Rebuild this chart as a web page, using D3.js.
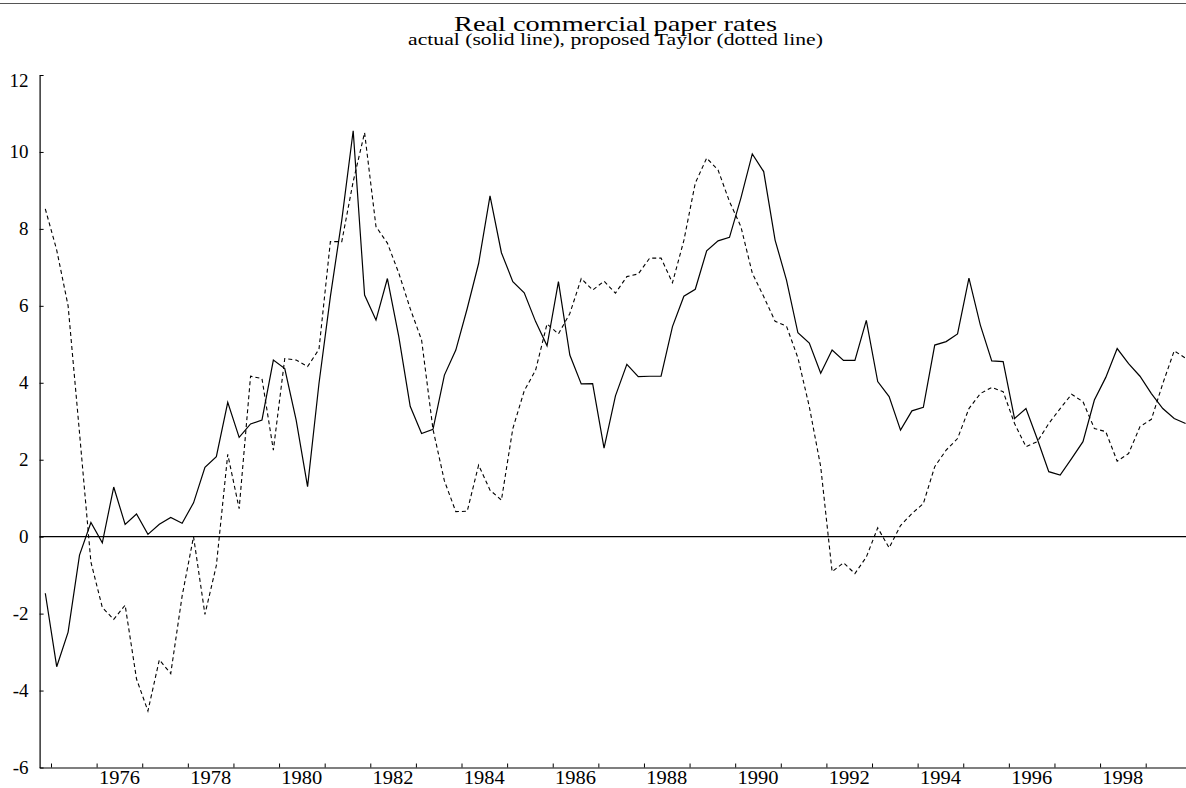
<!DOCTYPE html>
<html>
<head>
<meta charset="utf-8">
<script src="https://cdn.jsdelivr.net/npm/d3@7"></script>
<style>
  body { margin: 0; background: #fff; }
  svg { display: block; font-family: "Liberation Serif", "Times New Roman", serif; }
</style>
</head>
<body>
<div class="chart"></div>
<script>
// quarterly data, first observation is 1974 Q4
const START_YEAR = 1974;
const START_QUARTER = 4;

// actual real commercial paper rate (solid line)
const actual = [
  -1.47, -3.38, -2.48, -0.48, 0.37, -0.16, 1.29, 0.32, 0.59, 0.06,
  0.32, 0.50, 0.35, 0.88, 1.80, 2.08, 3.49, 2.58, 2.93, 3.03,
  4.59, 4.37, 3.03, 1.30, 3.98, 6.24, 8.23, 10.55, 6.28, 5.63,
  6.71, 5.20, 3.39, 2.68, 2.79, 4.20, 4.85, 5.93, 7.10, 8.86,
  7.38, 6.63, 6.34, 5.59, 4.96, 6.63, 4.72, 3.97, 3.98, 2.30,
  3.66, 4.48, 4.16, 4.17, 4.17, 5.46, 6.25, 6.43, 7.43, 7.69,
  7.78, 8.80, 9.95, 9.49, 7.71, 6.67, 5.30, 5.03, 4.25, 4.85,
  4.58, 4.58, 5.62, 4.03, 3.64, 2.77, 3.27, 3.36, 4.98, 5.07,
  5.27, 6.72, 5.50, 4.57, 4.55, 3.07, 3.33, 2.53, 1.69, 1.60,
  2.03, 2.47, 3.55, 4.14, 4.89, 4.50, 4.17, 3.72, 3.33, 3.07,
  2.94
];

// proposed Taylor rule rate (dotted line)
const taylor = [
  8.52, 7.45, 6.00, 2.70, -0.66, -1.84, -2.15, -1.78, -3.70, -4.53,
  -3.20, -3.56, -1.54, 0.00, -2.02, -0.75, 2.14, 0.73, 4.17, 4.11,
  2.25, 4.63, 4.59, 4.42, 4.87, 7.67, 7.67, 9.23, 10.50, 8.06,
  7.63, 6.85, 5.93, 5.11, 2.79, 1.45, 0.65, 0.66, 1.86, 1.21,
  0.95, 2.81, 3.79, 4.33, 5.53, 5.27, 5.80, 6.71, 6.41, 6.64,
  6.33, 6.76, 6.83, 7.24, 7.24, 6.60, 7.70, 9.19, 9.84, 9.53,
  8.71, 8.06, 6.85, 6.24, 5.60, 5.47, 4.65, 3.38, 1.82, -0.91,
  -0.68, -0.96, -0.53, 0.23, -0.29, 0.29, 0.60, 0.86, 1.82, 2.25,
  2.55, 3.33, 3.72, 3.88, 3.77, 2.94, 2.34, 2.47, 2.94, 3.33,
  3.70, 3.51, 2.81, 2.73, 1.96, 2.16, 2.86, 3.05, 3.98, 4.83,
  4.64
];

const yTicks = [-6, -4, -2, 0, 2, 4, 6, 8, 10, 12];
const yearTicks = d3.range(1975, 2000);          // a tick at the start of each year
const yearLabels = d3.range(1976, 2000, 2);      // labelled every other year

const TITLE = "Real commercial paper rates";
const SUBTITLE = "actual (solid line), proposed Taylor (dotted line)";

const width = 1186;
const height = 788;

// each quarter is drawn at the middle of its interval
function quarterTime(i) {
  return START_YEAR + (START_QUARTER - 1) / 4 + i / 4 + 0.125;
}

const xScale = d3.scaleLinear()
  .domain([START_YEAR + (START_QUARTER - 1) / 4, 2000])
  .range([39.6, 1191.3]);

const yScale = d3.scaleLinear()
  .domain([-6, 12])
  .range([767.5, 75]);

const svg = d3.select(".chart")
  .append("svg")
  .attr("width", width)
  .attr("height", height);

// thin rule along the top of the page
svg.append("line")
  .attr("x1", 0).attr("x2", width)
  .attr("y1", 3.5).attr("y2", 3.5)
  .attr("stroke", "#555")
  .attr("stroke-width", 1.2);

// the original sets its headings with wide glyphs, so stretch them horizontally
function wideText(str, x, y, size, targetWidth) {
  const t = svg.append("text")
    .attr("text-anchor", "middle")
    .attr("font-size", size)
    .text(str);
  const natural = t.node().getComputedTextLength();
  t.attr("transform", `translate(${x}, ${y}) scale(${targetWidth / natural}, 1)`);
  return t;
}

wideText(TITLE, 615.5, 31, 20.5, 323);
wideText(SUBTITLE, 615.5, 44.5, 16.5, 415);

// y axis, ticks point into the plot
const yAxis = svg.append("g")
  .attr("class", "y-axis")
  .attr("transform", `translate(${xScale.range()[0]}, 0)`)
  .call(d3.axisRight(yScale).tickValues(yTicks).tickSize(4).tickSizeOuter(0).tickFormat(""));

yAxis.select(".domain").attr("stroke", "#000").attr("stroke-width", 1.2);
yAxis.selectAll(".tick line").attr("stroke", "#000").attr("stroke-width", 1);

svg.append("g")
  .attr("class", "y-labels")
  .selectAll("text")
  .data(yTicks)
  .join("text")
  .attr("x", 28.5)
  .attr("y", d => yScale(d) + (d === 12 ? 6 : 0))
  .attr("dy", "0.33em")
  .attr("text-anchor", "end")
  .attr("font-size", 19)
  .text(d => d);

// x axis, ticks point up
const xAxis = svg.append("g")
  .attr("class", "x-axis")
  .attr("transform", `translate(0, ${yScale(-6)})`)
  .call(d3.axisTop(xScale).tickValues(yearTicks).tickSize(4).tickSizeOuter(0).tickFormat(""));

xAxis.select(".domain").attr("stroke", "#000").attr("stroke-width", 1.2);
xAxis.selectAll(".tick line").attr("stroke", "#000").attr("stroke-width", 1);

// year labels sit in the middle of their year
svg.append("g")
  .attr("class", "x-labels")
  .selectAll("text")
  .data(yearLabels)
  .join("text")
  .attr("x", d => xScale(d + 0.5))
  .attr("y", 784)
  .attr("text-anchor", "middle")
  .attr("font-size", 19)
  .attr("textLength", 41)
  .attr("lengthAdjust", "spacingAndGlyphs")
  .text(d => d);

// zero line
svg.append("line")
  .attr("x1", xScale.range()[0]).attr("x2", width)
  .attr("y1", yScale(0)).attr("y2", yScale(0))
  .attr("stroke", "#000")
  .attr("stroke-width", 1.1);

const line = d3.line()
  .x((d, i) => xScale(quarterTime(i)))
  .y(d => yScale(d));

svg.append("path")
  .datum(taylor)
  .attr("fill", "none")
  .attr("stroke", "#000")
  .attr("stroke-width", 1.1)
  .attr("stroke-dasharray", "4,3")
  .attr("d", line);

svg.append("path")
  .datum(actual)
  .attr("fill", "none")
  .attr("stroke", "#000")
  .attr("stroke-width", 1.2)
  .attr("d", line);
</script>
</body>
</html>
